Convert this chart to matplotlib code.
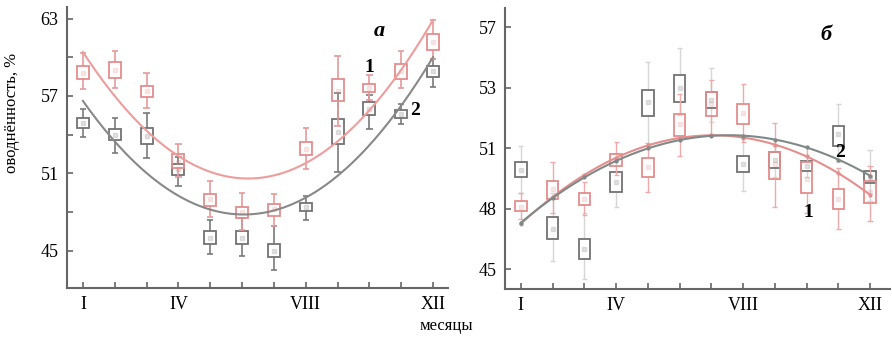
import numpy as np
import matplotlib
matplotlib.use("Agg")
import matplotlib.pyplot as plt

plt.rcParams['font.family'] = ['Liberation Serif', 'DejaVu Serif']

months = np.arange(1, 13)
x_ticks_pos = [1, 4, 8, 12]
x_tick_labels = ["I", "IV", "VIII", "XII"]

# ---- panel a ----
a1_mean = [58.8, 59.0, 57.4, 51.9, 49.0, 48.0, 48.2, 52.9, 57.4, 57.6, 58.9, 61.2]
a1_box_lo = [58.3, 58.4, 56.9, 51.4, 48.5, 47.5, 47.7, 52.4, 56.6, 57.3, 58.3, 60.6]
a1_box_hi = [59.3, 59.6, 57.8, 52.5, 49.4, 48.4, 48.6, 53.4, 58.3, 57.9, 59.5, 61.8]
a1_low = [57.5, 57.6, 56.1, 50.7, 47.6, 46.6, 46.9, 51.3, 54.7, 56.7, 57.6, 59.9]
a1_high = [60.3, 60.5, 58.8, 53.3, 50.4, 49.5, 49.4, 54.5, 60.1, 58.6, 60.5, 62.9]
a1_curve = [60.4, 57.0, 54.3, 52.35, 51.1, 50.6, 50.8, 51.8, 53.5, 55.9, 59.0, 62.9]

a2_mean = [54.9, 54.0, 53.9, 51.3, 46.0, 46.0, 45.0, 48.4, 54.2, 56.0, 55.6, 58.9]
a2_box_lo = [54.5, 53.6, 53.3, 50.9, 45.5, 45.5, 44.5, 48.1, 53.3, 55.5, 55.3, 58.5]
a2_box_hi = [55.3, 54.4, 54.5, 51.7, 46.5, 46.5, 45.5, 48.7, 55.2, 56.5, 55.9, 59.3]
a2_low = [53.8, 52.6, 52.2, 50.0, 44.7, 44.6, 43.5, 47.4, 51.1, 54.4, 54.8, 57.7]
a2_high = [56.0, 55.3, 55.7, 52.3, 47.4, 47.5, 46.9, 49.2, 57.2, 57.1, 56.4, 59.9]
a2_curve = [56.6, 53.5, 51.0, 49.25, 48.2, 47.8, 48.1, 49.1, 50.8, 53.2, 56.25, 60.0]

a_yticks = [45, 48, 51, 54, 57, 60, 63]
a_yticklabels = ["45", "", "51", "", "57", "", "63"]

# ---- panel b ----
b1_mean = [48.1, 49.0, 48.5, 50.4, 50.05, 52.2, 53.2, 52.75, 50.2, 49.5, 48.5, 48.85]
b1_box_lo = [47.9, 48.5, 48.2, 50.1, 49.6, 51.6, 52.6, 52.2, 49.5, 48.8, 48.0, 48.3]
b1_box_hi = [48.4, 49.4, 48.8, 50.7, 50.5, 52.7, 53.8, 53.2, 50.8, 50.3, 49.0, 49.4]
b1_low = [47.5, 47.8, 47.7, 49.7, 48.85, 50.6, 51.7, 51.3, 48.1, 47.8, 47.0, 47.4]
b1_high = [48.8, 50.3, 49.35, 51.3, 51.25, 53.7, 54.4, 54.2, 52.25, 51.1, 50.0, 50.1]
b1_curve = [47.45, 48.4, 49.5, 50.6, 51.2, 51.55, 51.67, 51.55, 51.2, 50.55, 49.75, 48.7]

b2_mean = [49.9, 47.0, 46.0, 49.35, 53.3, 54.0, 53.4, 50.2, 50.4, 50.1, 51.7, 49.6]
b2_box_lo = [49.6, 46.5, 45.5, 48.85, 52.6, 53.3, 53.0, 49.8, 50.0, 49.85, 51.1, 49.3]
b2_box_hi = [50.3, 47.6, 46.5, 49.8, 53.9, 54.65, 53.8, 50.6, 50.8, 50.35, 52.1, 49.85]
b2_low = [48.8, 45.4, 44.5, 48.1, 51.1, 52.66, 52.3, 48.9, 49.6, 49.6, 50.3, 48.4]
b2_high = [51.1, 48.8, 47.8, 50.75, 55.3, 55.97, 55.0, 51.6, 51.1, 50.6, 53.2, 50.9]
b2_curve = [47.5, 48.5, 49.45, 50.25, 50.9, 51.35, 51.63, 51.7, 51.55, 51.2, 50.6, 49.35]

b_yticks = [45, 48, 51, 54, 57]
b_yticklabels = ["45", "48", "51", "53", "57"]

fig = plt.figure(figsize=(8.92, 3.38), dpi=100)
W, H = 892, 338


def axes_px(x0, y0, x1, y1):
    return fig.add_axes([x0 / W, 1 - y1 / H, (x1 - x0) / W, (y1 - y0) / H])


ax_a = axes_px(67, 7, 448, 288)
ax_b = axes_px(505, 8, 890, 289)

RED_BOX = "#e48c8c"
RED_WHISK_A = "#e49a9a"
RED_CURVE = "#ef9c9c"
GRAY_BOX = "#737373"
GRAY_WHISK_A = "#7a7a7a"
GRAY_CURVE = "#888888"


def draw_series(ax, mean, blo, bhi, low, high, box_col, whisk_col, width, cap, lw_w, zo):
    mean = np.asarray(mean); blo = np.asarray(blo); bhi = np.asarray(bhi)
    low = np.asarray(low); high = np.asarray(high)
    ax.vlines(months, low, blo, colors=whisk_col, lw=lw_w, zorder=zo)
    ax.vlines(months, bhi, high, colors=whisk_col, lw=lw_w, zorder=zo)
    ax.hlines(low, months - cap, months + cap, colors=whisk_col, lw=lw_w, zorder=zo)
    ax.hlines(high, months - cap, months + cap, colors=whisk_col, lw=lw_w, zorder=zo)
    ax.bar(months, bhi - blo, bottom=blo, width=width, facecolor="none",
           edgecolor=box_col, lw=1.3, zorder=zo + 1)
    ax.plot(months, mean, ls="none", marker="s", ms=2.5, color=box_col, alpha=0.2, zorder=zo + 1)


def draw_curve(ax, vals, col, lw, dots=False):
    coef = np.polyfit(months, vals, 2)
    xs = np.linspace(1, 12, 200)
    ax.plot(xs, np.polyval(coef, xs), color=col, lw=lw, zorder=5)
    if dots:
        ax.plot(months, np.polyval(coef, months), ls="none", marker="o", ms=2, color=col, zorder=5)


# panel a
draw_series(ax_a, a2_mean, a2_box_lo, a2_box_hi, a2_low, a2_high, GRAY_BOX, GRAY_WHISK_A, 0.38, 0.1, 1.2, 2)
draw_series(ax_a, a1_mean, a1_box_lo, a1_box_hi, a1_low, a1_high, RED_BOX, RED_WHISK_A, 0.38, 0.1, 1.2, 3)
draw_curve(ax_a, a1_curve, RED_CURVE, 1.5)
draw_curve(ax_a, a2_curve, GRAY_CURVE, 1.5)
ax_a.set_xlim(0.5, 12.47)
ax_a.set_ylim(42.1, 63.9)
ax_a.set_yticks(a_yticks)
ax_a.set_yticklabels(a_yticklabels)
ax_a.text(10.3, 62.0, "а", fontsize=16, fontweight="bold", fontstyle="italic", ha="center", va="center")
ax_a.text(10.0, 59.2, "1", fontsize=14, fontweight="bold", ha="center", va="center")
ax_a.text(11.45, 55.9, "2", fontsize=14, fontweight="bold", ha="center", va="center")

# panel b
draw_series(ax_b, b2_mean, b2_box_lo, b2_box_hi, b2_low, b2_high, GRAY_BOX, "#d6d6d6", 0.36, 0.08, 1.0, 2)
draw_series(ax_b, b1_mean, b1_box_lo, b1_box_hi, b1_low, b1_high, RED_BOX, "#eeaaaa", 0.36, 0.08, 1.0, 3)
draw_curve(ax_b, b1_curve, "#e58e8e", 1.5, dots=True)
draw_curve(ax_b, b2_curve, "#7f8a88", 1.5, dots=True)
ax_b.set_xlim(0.5, 12.63)
ax_b.set_ylim(44.02, 57.96)
ax_b.set_yticks(b_yticks)
ax_b.set_yticklabels(b_yticklabels)
ax_b.text(10.6, 56.6, "б", fontsize=16, fontweight="bold", fontstyle="italic", ha="center", va="center")
ax_b.text(11.07, 50.8, "2", fontsize=14, fontweight="bold", ha="center", va="center")
ax_b.text(10.05, 47.8, "1", fontsize=14, fontweight="bold", ha="center", va="center")

for ax in (ax_a, ax_b):
    ax.set_xticks(months)
    ax.set_xticklabels([x_tick_labels[x_ticks_pos.index(m)] if m in x_ticks_pos else "" for m in months])
    for s in ("top", "right"):
        ax.spines[s].set_visible(False)
    for s in ("left", "bottom"):
        ax.spines[s].set_color("#666666")
        ax.spines[s].set_linewidth(1.5)
    ax.tick_params(direction="in", length=4, width=1.2, color="#666666", labelsize=13, pad=6)
    ax.set_facecolor("none")

fig.text(12 / W, 1 - 113 / H, "оводнённость, %", rotation=90, fontsize=12, ha="center", va="center")
fig.text(446 / W, 1 - 326 / H, "месяцы", fontsize=12, ha="center", va="center")

fig.savefig("out.png", dpi=100)
